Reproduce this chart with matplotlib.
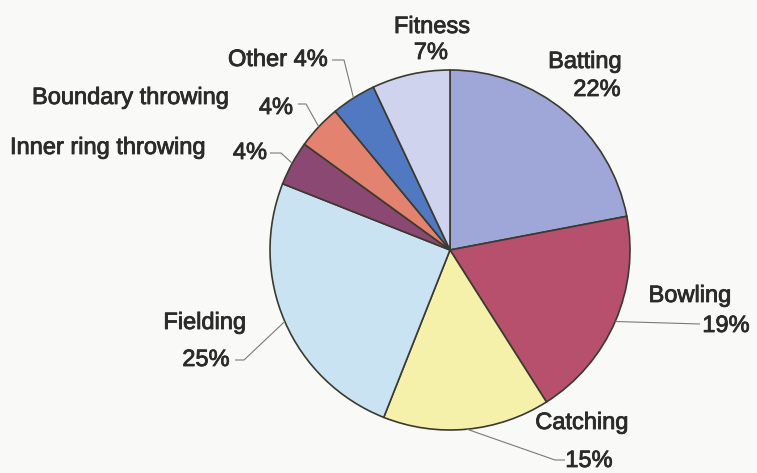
import numpy as np
import matplotlib.pyplot as plt
import matplotlib.patheffects as pe

# fielding practice time split, clockwise from 12 o'clock
categories = ["Batting", "Bowling", "Catching", "Fielding",
              "Inner ring throwing", "Boundary throwing", "Other", "Fitness"]
shares = [22, 19, 15, 25, 4, 4, 4, 7]
colors = ["#9fa7d8", "#b6506c", "#f6f1aa", "#c9e3f3",
          "#8a4873", "#e2826f", "#5079c1", "#d0d3ee"]

W, H = 757, 473
CX, CY, R = 450, 250, 180

TXT = "#2b2b28"
LINE = "#7a7a76"
FS = 17

plt.rcParams["font.family"] = ["Liberation Sans", "DejaVu Sans"]

fig = plt.figure(figsize=(W / 100, H / 100), dpi=100)
fig.patch.set_facecolor("#f9f9f7")
ax = fig.add_axes([0, 0, 1, 1])

# y axis runs downward (pixel-like coords), so counterclock=True in data
# space draws the wedges clockwise on screen, starting straight up
wedges, _ = ax.pie(shares, colors=colors, center=(CX, CY), radius=R,
                   startangle=-90, counterclock=True,
                   wedgeprops=dict(edgecolor="#3b3a30", linewidth=1.2))
ax.set_xlim(0, W)
ax.set_ylim(H, 0)
ax.set_aspect("equal")
ax.axis("off")


def edge_point(i):
    # point on the rim at the middle of wedge i
    w = wedges[i]
    a = np.deg2rad((w.theta1 + w.theta2) / 2)
    return CX + R * np.cos(a), CY + R * np.sin(a)


def leader(i, *pts):
    x0, y0 = edge_point(i)
    xs = [x0] + [p[0] for p in pts]
    ys = [y0] + [p[1] for p in pts]
    ax.plot(xs, ys, color=LINE, lw=0.8, solid_capstyle="butt")


def label(x, y, s, ha="center"):
    ax.text(x, y, s, ha=ha, va="center", fontsize=FS, color=TXT,
            path_effects=[pe.withStroke(linewidth=0.6, foreground=TXT)])


pct = [f"{v}%" for v in shares]

# Batting
label(585, 62, categories[0])
label(597, 90, pct[0])
# Bowling
label(690, 296, categories[1])
label(726, 326, pct[1])
leader(1, (700, 324))
# Catching
label(582, 423, categories[2])
label(589, 461, pct[2])
leader(2, (555, 460), (565, 460))
# Fielding
label(205, 323, categories[3])
label(206, 360, pct[3])
leader(3, (244, 360), (235, 360))
# Inner ring throwing
label(10, 148, categories[4], ha="left")
label(250, 153, pct[4])
leader(4, (281, 153), (270, 153))
# Boundary throwing
label(32, 98, categories[5], ha="left")
label(276, 108, pct[5])
leader(5, (306, 104), (298, 104))
# Other
label(328, 60, f"{categories[6]} {pct[6]}", ha="right")
leader(6, (344, 60), (332, 60))
# Fitness
label(432, 27, categories[7])
label(431, 53, pct[7])

fig.savefig("out.png", dpi=100, facecolor=fig.get_facecolor())
